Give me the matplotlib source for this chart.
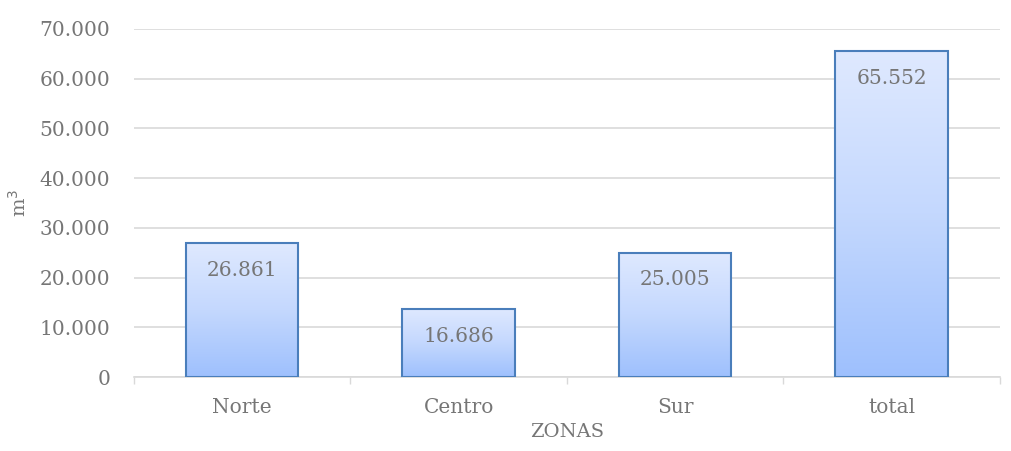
import matplotlib
matplotlib.use('Agg')
import matplotlib.pyplot as plt
import numpy as np
from matplotlib.colors import LinearSegmentedColormap

# Data
zonas = ["Norte", "Centro", "Sur", "total"]
volumen = [26861, 13686, 25005, 65552]
etiquetas = ["26.861", "16.686", "25.005", "65.552"]
y_ticks = [0, 10000, 20000, 30000, 40000, 50000, 60000, 70000]
y_tick_labels = ["0", "10.000", "20.000", "30.000", "40.000", "50.000", "60.000", "70.000"]

plt.rcParams['font.family'] = ['DejaVu Serif']
text_color = "#767676"

fig = plt.figure(figsize=(10.11, 4.51), dpi=100)
ax = fig.add_axes([0.1325, 0.164, 0.8565, 0.772])

x = np.arange(len(zonas))
bar_w = 0.52
bars = ax.bar(x, volumen, width=bar_w, color="none", edgecolor="#4a7ebb",
              linewidth=1.5, zorder=3)

# vertical gradient fill: light on top, darker blue at the bottom
cmap = LinearSegmentedColormap.from_list("grad", ["#9ec0fd", "#c4d8fe", "#dfe9ff"])
grad = np.linspace(0, 1, 256).reshape(-1, 1)
for b in bars:
    x0, y0 = b.get_x(), b.get_y()
    im = ax.imshow(grad, cmap=cmap, origin="lower", aspect="auto",
                   extent=(x0, x0 + b.get_width(), y0, y0 + b.get_height()),
                   zorder=2)
    im.set_clip_path(b)

for xi, v, lab in zip(x, volumen, etiquetas):
    ax.annotate(lab, (xi, v), xytext=(0, -19.5), textcoords="offset points",
                ha="center", va="center", fontsize=14.5, color=text_color, zorder=4)

ax.set_xlim(-0.5, len(zonas) - 0.5)
ax.set_ylim(0, 70000)
ax.set_yticks(y_ticks)
ax.set_yticklabels(y_tick_labels)
ax.set_xticks(x)
ax.set_xticklabels(zonas)
ax.set_xticks(np.arange(-0.5, len(zonas)), minor=True)
ax.tick_params(axis="x", which="major", length=0, pad=15, labelsize=14.5, labelcolor=text_color)
ax.tick_params(axis="x", which="minor", length=5, color="#d9d9d9", width=1)
ax.tick_params(axis="y", length=0, pad=17, labelsize=14.5, labelcolor=text_color)

ax.grid(axis="y", color="#d9d9d9", linewidth=1.2, zorder=0)
ax.set_axisbelow(True)
for s in ["top", "right", "left"]:
    ax.spines[s].set_visible(False)
ax.spines["bottom"].set_color("#d9d9d9")
ax.spines["bottom"].set_linewidth(1.2)

ax.set_xlabel("ZONAS", fontsize=14, color=text_color, va="center")
ax.xaxis.set_label_coords(0.5, -0.158)
ax.set_ylabel("m$^3$", fontsize=14, color=text_color, ha="center", va="center")
ax.yaxis.set_label_coords(-0.133, 0.5)

fig.savefig("out.png", dpi=100)
